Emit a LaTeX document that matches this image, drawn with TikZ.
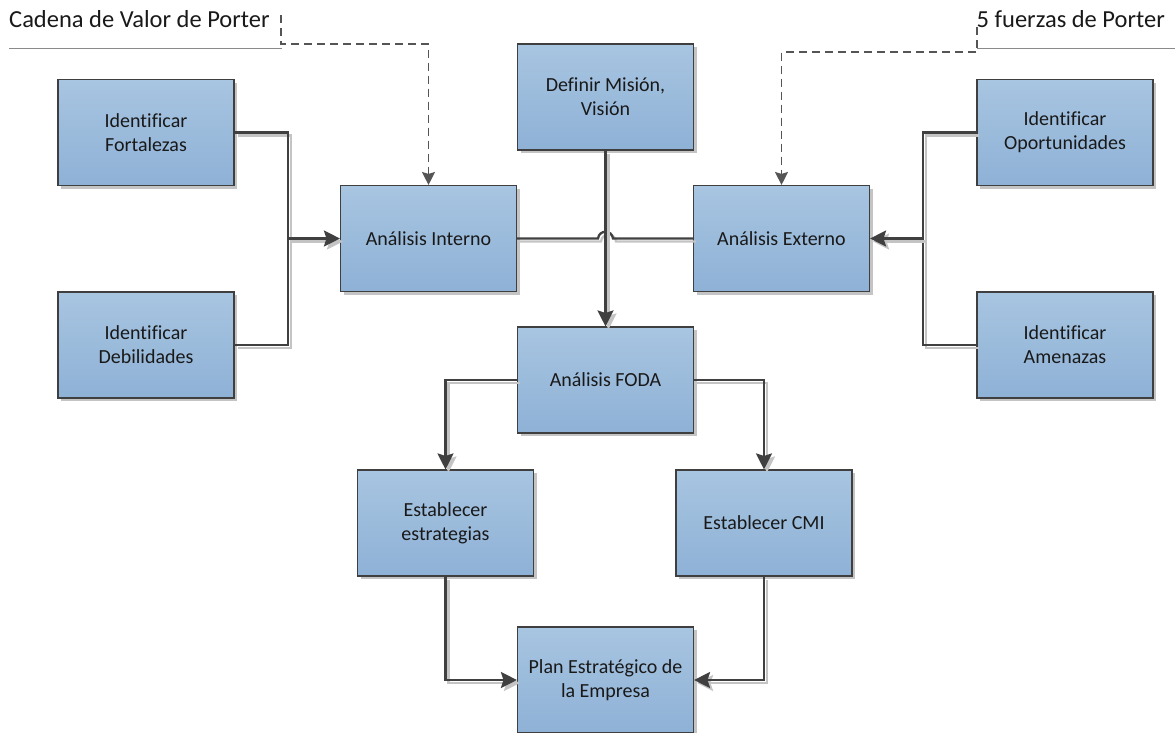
\documentclass[tikz,border=0pt]{standalone}
\usepackage{fontspec}
\setmainfont{Carlito}[Ligatures={NoCommon}]
\usetikzlibrary{arrows.meta,shadows}

\definecolor{boxtop}{HTML}{A8C5E1}
\definecolor{boxbot}{HTML}{8EB1D6}
\definecolor{edgegray}{HTML}{3F3F3F}
\definecolor{linegray}{HTML}{404040}
\definecolor{shadegray}{HTML}{C4C4C4}
\definecolor{dashgray}{HTML}{555555}
\definecolor{rulegray}{HTML}{8A8A8A}

\tikzset{
  process/.style={draw=edgegray, line width=1.1pt, top color=boxtop, bottom color=boxbot,
    minimum width=176pt, minimum height=106pt, inner sep=0pt, align=center,
    font=\fontsize{20}{24}\selectfont, text=black!90,
    drop shadow={shadow xshift=3pt, shadow yshift=-3pt, fill=shadegray, opacity=1}},
  tip/.style={-{Stealth[length=16pt,width=16pt,inset=2.5pt]}},
  conn/.style={draw=linegray, line width=2.3pt},
  connshade/.style={draw=shadegray, line width=2.3pt,
    transform canvas={shift={(3pt,-3pt)}}},
  callout/.style={draw=dashgray, line width=1.5pt, dash pattern=on 8pt off 5pt,
    -{Stealth[length=13pt,width=13pt,inset=2pt]}},
  annot/.style={anchor=base west, inner sep=0pt, font=\fontsize{24.5}{29}\selectfont, text=black!90},
  rulebar/.style={draw=rulegray, line width=1pt}
}

% connector with its offset grey shadow underneath
\newcommand\link[2][]{%
  \draw[connshade,#1] #2;
  \draw[conn,#1] #2;}

\begin{document}
\begin{tikzpicture}[x=1pt,y=-1pt]
\useasboundingbox (0,0) rectangle (1175,732);

% process boxes
\node[process] (fort) at (146,132.5)   {Identificar\\Fortalezas};
\node[process] (deb)  at (146,345)     {Identificar\\Debilidades};
\node[process] (int)  at (428.5,238.5) {Análisis Interno};
\node[process] (mis)  at (605.5,97)    {Definir Misión,\\Visión};
\node[process] (ext)  at (781.5,238.5) {Análisis Externo};
\node[process] (opo)  at (1065,132.5)  {Identificar\\Oportunidades};
\node[process] (ame)  at (1065,345)    {Identificar\\Amenazas};
\node[process] (foda) at (605.5,380)   {Análisis FODA};
\node[process] (est)  at (445.5,523)   {Establecer\\estrategias};
\node[process] (cmi)  at (764,523)     {Establecer CMI};
\node[process] (plan) at (605.5,680)   {Plan Estratégico de\\la Empresa};

% junction points of the merging connectors
\coordinate (jl) at (288,238.5);
\coordinate (jr) at (923,238.5);
\coordinate (hopa) at (598,238.5);
\coordinate (hopb) at (613,238.5);

% internal / external analysis inputs
\link{(fort.east) -| (jl)}
\link{(deb.east) -| (jl)}
\link[tip]{(jl) -- (int.west)}
\link{(opo.west) -| (jr)}
\link{(ame.west) -| (jr)}
\link[tip]{(jr) -- (ext.east)}

% line between the two analyses, hopping over the mission line
\link{(int.east) -- (hopa) .. controls (599,229.5) and (612,229.5) .. (hopb) -- (ext.west)}
\link[tip]{(mis.south) -- (foda.north)}

% SWOT outputs
\link[tip]{(foda.west) -| (est.north)}
\link[tip]{(foda.east) -| (cmi.north)}
\link[tip]{(est.south) |- (plan.west)}
\link[tip]{(cmi.south) |- (plan.east)}

% annotations
\node[annot] (cad) at (9,27.5) {Cadena de Valor de Porter};
\node[annot] (fza) at (976.5,27) {5 fuerzas de Porter};
\coordinate (cadL) at (9,48);
\coordinate (cadR) at (282,48);
\coordinate (fzaL) at (977,48);
\coordinate (fzaR) at (1175,48);
\draw[rulebar] (cadL) -- (cadR);
\draw[rulebar] (fzaL) -- (fzaR);

\coordinate (cadT) at (281,15);
\coordinate (cadK) at (281,44);
\coordinate (fzaT) at (977,27);
\coordinate (fzaK) at (977,52);
\draw[callout] (cadT) -- (cadK) -| (int.north);
\draw[callout] (fzaT) -- (fzaK) -| (ext.north);
\end{tikzpicture}
\end{document}
